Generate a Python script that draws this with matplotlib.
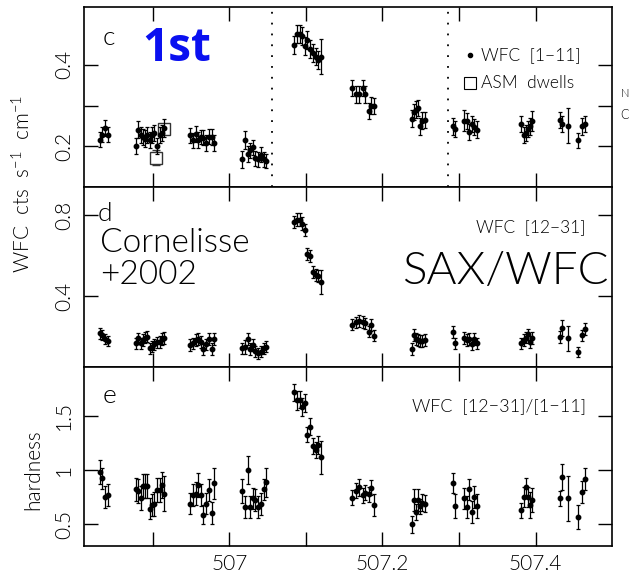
import matplotlib
matplotlib.use("Agg")
import matplotlib.pyplot as plt
from matplotlib.ticker import FixedLocator

# time (days), shared by all three panels
t = [
    506.831, 506.834, 506.838, 506.842,
    506.878, 506.881, 506.884, 506.887, 506.890, 506.893, 506.896, 506.899,
    506.902, 506.905, 506.909, 506.912, 506.915,
    506.949, 506.953, 506.956, 506.959, 506.963, 506.966, 506.970, 506.973,
    506.977, 506.980,
    507.017, 507.021, 507.024, 507.027, 507.031, 507.034, 507.038, 507.041,
    507.045, 507.048,
    507.085, 507.088, 507.092, 507.095, 507.099, 507.102, 507.106, 507.109,
    507.113, 507.116, 507.120,
    507.160, 507.166, 507.169, 507.174, 507.177, 507.182, 507.185, 507.189,
    507.238, 507.241, 507.244, 507.246, 507.249, 507.252, 507.256,
    507.292, 507.295, 507.307, 507.310, 507.313, 507.317, 507.320, 507.324,
    507.381, 507.385, 507.387, 507.390, 507.393, 507.396,
    507.432, 507.435, 507.442, 507.456, 507.461, 507.464,
]

# panel c: WFC 1-11 keV
soft = [
    0.216, 0.229, 0.245, 0.229,
    0.201, 0.241, 0.227, 0.223, 0.219, 0.227, 0.215, 0.227, 0.232, 0.201,
    0.227, 0.232, 0.246,
    0.227, 0.215, 0.231, 0.216, 0.223, 0.221, 0.208, 0.224, 0.223, 0.208,
    0.168, 0.215, 0.182, 0.190, 0.198, 0.171, 0.168, 0.180, 0.168, 0.164,
    0.448, 0.475, 0.475, 0.471, 0.446, 0.460, 0.438, 0.428, 0.420, 0.411, 0.420,
    0.343, 0.327, 0.327, 0.343, 0.327, 0.286, 0.300, 0.298,
    0.268, 0.284, 0.290, 0.294, 0.249, 0.263, 0.265,
    0.249, 0.243, 0.263, 0.262, 0.235, 0.255, 0.247, 0.241,
    0.254, 0.227, 0.232, 0.243, 0.249, 0.262,
    0.265, 0.255, 0.251, 0.215, 0.249, 0.254,
]
soft_err = [
    0.018, 0.018, 0.020, 0.018,
    0.020, 0.020, 0.020, 0.020, 0.020, 0.020, 0.020, 0.020, 0.020, 0.020,
    0.020, 0.020, 0.022,
    0.018, 0.018, 0.020, 0.020, 0.018, 0.018, 0.020, 0.018, 0.020, 0.020,
    0.020, 0.022, 0.020, 0.018, 0.018, 0.018, 0.018, 0.018, 0.018, 0.018,
    0.022, 0.022, 0.022, 0.022, 0.022, 0.022, 0.022, 0.022, 0.022, 0.022, 0.042,
    0.020, 0.020, 0.020, 0.020, 0.020, 0.020, 0.020, 0.020,
    0.020, 0.020, 0.020, 0.020, 0.020, 0.020, 0.020,
    0.020, 0.020, 0.025, 0.020, 0.020, 0.020, 0.020, 0.020,
    0.020, 0.020, 0.020, 0.020, 0.020, 0.025,
    0.020, 0.020, 0.042, 0.018, 0.020, 0.020,
]

# ASM dwells
asm_t = [506.904, 506.914]
asm_rate = [0.172, 0.243]
asm_err = [0.018, 0.012]

# panel d: WFC 12-31 keV
hard = [
    0.216, 0.207, 0.188, 0.178,
    0.166, 0.191, 0.166, 0.183, 0.194, 0.199, 0.142, 0.150, 0.161, 0.171,
    0.174, 0.188, 0.194,
    0.158, 0.166, 0.183, 0.188, 0.174, 0.138, 0.161, 0.188, 0.138, 0.188,
    0.142, 0.147, 0.188, 0.138, 0.158, 0.128, 0.117, 0.125, 0.142, 0.150,
    0.767, 0.780, 0.780, 0.760, 0.730, 0.610, 0.600, 0.520, 0.505, 0.500, 0.470,
    0.260, 0.270, 0.277, 0.273, 0.265, 0.224, 0.257, 0.204,
    0.138, 0.207, 0.188, 0.183, 0.178, 0.178, 0.183,
    0.224, 0.166, 0.194, 0.183, 0.188, 0.161, 0.188, 0.166,
    0.166, 0.183, 0.194, 0.211, 0.174, 0.194,
    0.199, 0.241, 0.191, 0.125, 0.207, 0.237,
]
hard_err = [
    0.028, 0.025, 0.025, 0.025,
    0.028, 0.028, 0.028, 0.028, 0.028, 0.028, 0.028, 0.028, 0.028, 0.028,
    0.028, 0.028, 0.030,
    0.028, 0.028, 0.028, 0.028, 0.028, 0.028, 0.028, 0.028, 0.028, 0.030,
    0.028, 0.035, 0.030, 0.028, 0.028, 0.028, 0.028, 0.028, 0.028, 0.028,
    0.030, 0.030, 0.030, 0.030, 0.030, 0.030, 0.030, 0.030, 0.030, 0.030, 0.060,
    0.028, 0.028, 0.028, 0.028, 0.028, 0.028, 0.028, 0.028,
    0.030, 0.030, 0.028, 0.028, 0.028, 0.028, 0.028,
    0.030, 0.028, 0.030, 0.028, 0.028, 0.028, 0.028, 0.028,
    0.028, 0.028, 0.028, 0.028, 0.028, 0.030,
    0.030, 0.040, 0.060, 0.025, 0.028, 0.030,
]

# panel e: hardness ratio
ratio = [
    0.979, 0.923, 0.753, 0.769,
    0.821, 0.806, 0.745, 0.852, 0.852, 0.852, 0.645, 0.676, 0.690, 0.815,
    0.815, 0.858, 0.784,
    0.691, 0.769, 0.784, 0.861, 0.769, 0.590, 0.691, 0.815, 0.605, 0.877,
    0.809, 0.660, 1.000, 0.660, 0.738, 0.722, 0.660, 0.685, 0.821, 0.886,
    1.716, 1.642, 1.648, 1.580, 1.617, 1.324, 1.401, 1.222, 1.185, 1.231, 1.117,
    0.747, 0.809, 0.840, 0.769, 0.790, 0.778, 0.836, 0.676,
    0.500, 0.722, 0.614, 0.722, 0.667, 0.700, 0.691,
    0.883, 0.667, 0.738, 0.660, 0.821, 0.614, 0.753, 0.667,
    0.630, 0.753, 0.840, 0.750, 0.682, 0.722,
    0.738, 0.938, 0.738, 0.568, 0.799, 0.917,
]
ratio_err = [
    0.11, 0.10, 0.10, 0.10,
    0.11, 0.11, 0.11, 0.11, 0.11, 0.11, 0.10, 0.10, 0.11, 0.11,
    0.11, 0.12, 0.16,
    0.10, 0.10, 0.11, 0.11, 0.10, 0.09, 0.10, 0.10, 0.10, 0.14,
    0.11, 0.10, 0.13, 0.10, 0.10, 0.10, 0.10, 0.10, 0.10, 0.13,
    0.08, 0.09, 0.08, 0.08, 0.08, 0.07, 0.08, 0.07, 0.07, 0.08, 0.15,
    0.07, 0.07, 0.08, 0.07, 0.07, 0.07, 0.07, 0.10,
    0.08, 0.10, 0.07, 0.10, 0.07, 0.08, 0.08,
    0.09, 0.11, 0.10, 0.10, 0.10, 0.10, 0.10, 0.11,
    0.07, 0.09, 0.09, 0.09, 0.12, 0.11,
    0.07, 0.12, 0.21, 0.11, 0.10, 0.10,
]

dotted_t = [507.056, 507.285]

plt.rcParams["font.family"] = ["Lato", "DejaVu Sans"]
plt.rcParams["font.weight"] = 300
plt.rcParams["mathtext.default"] = "regular"

fig = plt.figure(figsize=(6.31, 5.76), dpi=100)
left, width = 0.133, 0.837
ax_c = fig.add_axes([left, 0.675, width, 0.312])
ax_d = fig.add_axes([left, 0.363, width, 0.312])
ax_e = fig.add_axes([left, 0.052, width, 0.311])

eb = dict(fmt="o", color="black", ms=3.2, elinewidth=0.9, capsize=1.6,
          capthick=0.9)
ax_c.errorbar(t, soft, yerr=soft_err, **eb)
ax_c.errorbar(asm_t, asm_rate, yerr=asm_err, fmt="s", mfc="white",
              mec="#333333", ecolor="#333333", ms=9, mew=1.0,
              elinewidth=1.0, capsize=3, zorder=1)
for x in dotted_t:
    ax_c.axvline(x, color="black", lw=1.3, ls=(0, (1, 5)))
ax_d.errorbar(t, hard, yerr=hard_err, **eb)
ax_e.errorbar(t, ratio, yerr=ratio_err, **eb)

ax_c.set_ylim(0.1, 0.54)
ax_d.set_ylim(0.05, 0.94)
ax_e.set_ylim(0.3, 1.95)

ax_c.yaxis.set_major_locator(FixedLocator([0.2, 0.4]))
ax_c.yaxis.set_minor_locator(FixedLocator([0.3]))
ax_d.yaxis.set_major_locator(FixedLocator([0.4, 0.8]))
ax_e.yaxis.set_major_locator(FixedLocator([0.5, 1.0, 1.5]))
ax_c.set_yticklabels(["0.2", "0.4"])
ax_d.set_yticklabels(["0.4", "0.8"])
ax_e.set_yticklabels(["0.5", "1", "1.5"])

for ax in (ax_c, ax_d, ax_e):
    ax.set_xlim(506.81, 507.5)
    ax.xaxis.set_major_locator(FixedLocator([507.0, 507.2, 507.4]))
    ax.xaxis.set_minor_locator(FixedLocator([506.9, 507.1, 507.3]))
    ax.tick_params(which="both", direction="in", top=True, right=True,
                   length=10, width=1.0, labelsize=15)
    ax.tick_params(axis="y", labelrotation=90, pad=7)
    ax.tick_params(axis="x", pad=6)
    for lab in ax.get_yticklabels():
        lab.set_va("center")
    for s in ax.spines.values():
        s.set_linewidth(1.2)
for ax in (ax_c, ax_d):
    ax.tick_params(axis="x", labelbottom=False)
ax_e.set_xticklabels(["507", "507.2", "507.4"])

# panel letters
ax_c.text(0.035, 0.79, "c", transform=ax_c.transAxes, fontsize=19)
ax_d.text(0.025, 0.81, "d", transform=ax_d.transAxes, fontsize=19)
ax_e.text(0.035, 0.80, "e", transform=ax_e.transAxes, fontsize=19)

ax_c.text(0.11, 0.70, "1st", transform=ax_c.transAxes, fontsize=33,
          fontweight="bold", color="#0a10f0", family="Open Sans")

# legend in panel c
ax_c.plot([0.731], [0.735], "o", color="black", ms=3,
          transform=ax_c.transAxes)
ax_c.text(0.752, 0.735, "WFC  [1\u221211]", transform=ax_c.transAxes,
          fontsize=12.5, va="center")
ax_c.plot([0.731], [0.58], "s", mfc="white", mec="black", ms=9, mew=0.8,
          transform=ax_c.transAxes)
ax_c.text(0.752, 0.58, "ASM  dwells", transform=ax_c.transAxes,
          fontsize=12.5, va="center")

ax_d.text(0.95, 0.78, "WFC  [12\u221231]", transform=ax_d.transAxes,
          fontsize=12.5, ha="right", va="center")
ax_d.text(0.03, 0.60, "Cornelisse\n+2002", transform=ax_d.transAxes,
          fontsize=24, va="center", linespacing=1.1)
ax_d.text(0.605, 0.53, "SAX/WFC", transform=ax_d.transAxes, fontsize=33,
          va="center", clip_on=False)

ax_e.text(0.95, 0.78, "WFC  [12\u221231]/[1\u221211]",
          transform=ax_e.transAxes, fontsize=13, ha="right", va="center")

fig.text(0.036, 0.68, "WFC  cts  s$^{-1}$  cm$^{-1}$", rotation=90,
         fontsize=15, ha="center", va="center")
fig.text(0.052, 0.185, "hardness", rotation=90, fontsize=15,
         ha="center", va="center")

# clipped label fragment at the right edge
fig.text(0.99, 0.838, "N", fontsize=8, ha="center", va="center")
fig.text(0.99, 0.800, "C", fontsize=9, ha="center", va="center")

fig.savefig("out.png", dpi=100)
